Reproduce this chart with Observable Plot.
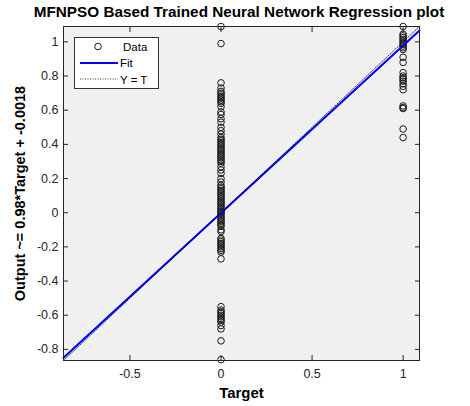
<!DOCTYPE html>
<html><head><meta charset="utf-8">
<script src="https://cdn.jsdelivr.net/npm/d3@7"></script>
<script src="https://cdn.jsdelivr.net/npm/@observablehq/plot@0.6"></script>
<style>
body{margin:0;background:#fff;font-family:"Liberation Sans",Arial,sans-serif;}
#wrap{position:relative;width:470px;height:406px;overflow:hidden;}
#chart{position:absolute;left:0;top:0;}
#title{position:absolute;left:0;top:3px;width:478px;text-align:center;font-weight:bold;font-size:15.3px;color:#000;white-space:nowrap;}
#legend{position:absolute;left:74px;top:37px;}
</style></head><body>
<div id="wrap"><div id="chart"></div><div id="title"></div><div id="legend"></div></div>
<script>
const titleText = "MFNPSO Based Trained Neural Network Regression plot";
const xLabel = "Target";
const slope = 0.98;
const intercept = -0.0018;
const yLabel = "Output ~= " + slope + "*Target + " + intercept;
const axisDomain = [-0.865, 1.09];
const xTicks = [-0.5, 0, 0.5, 1];
const yTicks = [-0.8, -0.6, -0.4, -0.2, 0, 0.2, 0.4, 0.6, 0.8, 1];
const legendLabels = ["Data", "Fit", "Y = T"];

const outputsAtTarget0 = [1.09, 0.99, 0.76, 0.73, 0.71, 0.70, 0.69, 0.68, 0.67, 0.66, 0.65, 0.64, 0.62,
  0.59, 0.575, 0.55, 0.53, 0.50, 0.48, 0.46, 0.44, 0.43, 0.42, 0.41, 0.40, 0.39, 0.38, 0.37, 0.36, 0.35,
  0.34, 0.33, 0.32, 0.31, 0.30, 0.29, 0.27, 0.25, 0.23, 0.20, 0.18, 0.16, 0.15, 0.14, 0.13, 0.12, 0.11,
  0.10, 0.09, 0.08, 0.07, 0.06, 0.05, 0.04, 0.03, 0.02, 0.01, 0.005, 0.0, -0.01, -0.02, -0.03, -0.04,
  -0.05, -0.06, -0.07, -0.08, -0.10, -0.11, -0.15, -0.16, -0.17, -0.18, -0.19, -0.20, -0.21, -0.22,
  -0.23, -0.27, -0.55, -0.57, -0.58, -0.59, -0.60, -0.61, -0.62, -0.63, -0.64, -0.66, -0.68, -0.75, -0.86];
const outputsAtTarget1 = [1.09, 1.045, 1.035, 1.025, 1.015, 1.005, 0.995, 0.985, 0.975, 0.965, 0.955,
  0.91, 0.88, 0.82, 0.80, 0.79, 0.78, 0.77, 0.755, 0.74, 0.72, 0.625, 0.615, 0.61, 0.49, 0.44];

const rows = [
  ...outputsAtTarget0.map(v => ({target: 0, output: v})),
  ...outputsAtTarget1.map(v => ({target: 1, output: v}))
];
const fitRows = axisDomain.map(x => ({x, y: slope * x + intercept}));
const idRows = axisDomain.map(x => ({x, y: x}));

const fmt = d => String(d);
const plot = Plot.plot({
  width: 470, height: 406,
  marginTop: 26, marginLeft: 63, marginRight: 51, marginBottom: 46,
  style: {fontFamily: "'Liberation Sans', Arial, sans-serif", fontSize: "12px", color: "#262626", background: "transparent"},
  x: {domain: axisDomain},
  y: {domain: axisDomain},
  marks: [
    Plot.frame({fill: "#f0f0f0", stroke: null}),
    Plot.axisX({ticks: xTicks, tickSize: 0, tickPadding: 9, tickFormat: fmt, label: null, fontSize: 12.5}),
    Plot.axisY({ticks: yTicks, tickSize: 0, tickPadding: 5, tickFormat: fmt, label: null, fontSize: 12.5}),
    Plot.axisX({ticks: xTicks, anchor: "bottom", tickSize: -5, tickFormat: () => "", label: null}),
    Plot.axisX({ticks: xTicks, anchor: "top", tickSize: -5, tickFormat: () => "", label: null}),
    Plot.axisY({ticks: yTicks, anchor: "left", tickSize: -5, tickFormat: () => "", label: null}),
    Plot.axisY({ticks: yTicks, anchor: "right", tickSize: -5, tickFormat: () => "", label: null}),
    Plot.dot(rows, {x: "target", y: "output", r: 3.3, stroke: "#1a1a1a", strokeWidth: 1, fill: "none"}),
    Plot.line(fitRows, {x: "x", y: "y", stroke: "#0000ff", strokeWidth: 2}),
    Plot.line(idRows, {x: "x", y: "y", stroke: "#000", strokeWidth: 0.8, strokeDasharray: "1,1.5"}),
    Plot.frame({stroke: "#262626", strokeWidth: 1}),
    Plot.text([xLabel], {text: d => d, frameAnchor: "bottom", textAnchor: "middle", dy: 37, fontWeight: "bold", fontSize: 15, fill: "#000"}),
    Plot.text([yLabel], {text: d => d, frameAnchor: "left", textAnchor: "middle", dx: -43, rotate: -90, fontWeight: "bold", fontSize: 14.5, fill: "#000"})
  ]
});
document.getElementById("chart").appendChild(plot);
document.getElementById("title").textContent = titleText;

const lg = d3.select("#legend").append("svg").attr("width", 86).attr("height", 53);
lg.append("rect").attr("x", 0.5).attr("y", 0.5).attr("width", 84).attr("height", 51).attr("fill", "#fff").attr("stroke", "#333");
lg.append("circle").attr("cx", 24).attr("cy", 9.5).attr("r", 3.3).attr("fill", "none").attr("stroke", "#1a1a1a");
lg.append("line").attr("x1", 6).attr("x2", 44).attr("y1", 26).attr("y2", 26).attr("stroke", "#0000ff").attr("stroke-width", 2);
lg.append("line").attr("x1", 6).attr("x2", 44).attr("y1", 42).attr("y2", 42).attr("stroke", "#000").attr("stroke-width", 0.8).attr("stroke-dasharray", "1,1.5");
legendLabels.forEach((t, i) => {
  lg.append("text").attr("x", i === 0 ? 49 : 46).attr("y", 13.5 + i * 16.5).attr("font-size", 11.5).attr("fill", "#000")
    .attr("font-family", "'Liberation Sans', Arial, sans-serif").text(t);
});
</script>
</body></html>
